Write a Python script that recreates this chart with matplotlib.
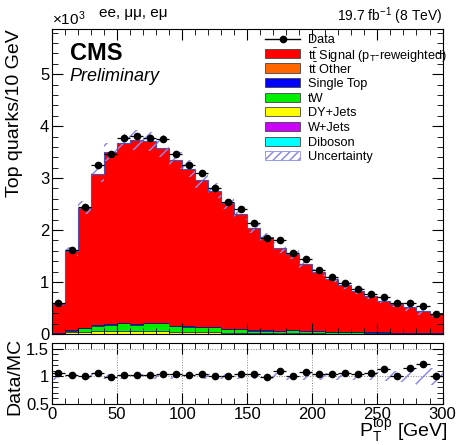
import numpy as np
import matplotlib
matplotlib.use("Agg")
import matplotlib.pyplot as plt
from matplotlib.ticker import MultipleLocator
from matplotlib.patches import Rectangle
from matplotlib.lines import Line2D

plt.rcParams['font.family'] = ['Liberation Sans', 'DejaVu Sans']
plt.rcParams['mathtext.fontset'] = 'custom'
plt.rcParams['mathtext.rm'] = 'Liberation Sans'
plt.rcParams['mathtext.it'] = 'Liberation Sans:italic'
plt.rcParams['mathtext.bf'] = 'Liberation Sans:bold'
plt.rcParams['hatch.linewidth'] = 1.1

# bin edges in GeV (10 GeV bins)
edges = np.arange(0, 310, 10)

# values in units of 10^3 top quarks per bin
data = [0.60, 1.62, 2.44, 3.25, 3.47, 3.78, 3.81, 3.78, 3.76, 3.46,
        3.25, 3.09, 2.80, 2.54, 2.40, 2.13, 1.85, 1.81, 1.55, 1.44,
        1.23, 1.10, 0.99, 0.86, 0.77, 0.72, 0.59, 0.59, 0.54, 0.39]
signal = [0.55, 1.51, 2.31, 2.90, 3.31, 3.45, 3.54, 3.49, 3.36, 3.18,
          3.03, 2.82, 2.62, 2.43, 2.21, 1.97, 1.78, 1.60, 1.46, 1.28,
          1.13, 1.02, 0.90, 0.79, 0.70, 0.61, 0.56, 0.49, 0.42, 0.37]
tt_other = [0.002, 0.003, 0.003, 0.004, 0.004, 0.004, 0.004, 0.004, 0.004, 0.003,
            0.003, 0.003, 0.003, 0.003, 0.002, 0.002, 0.002, 0.002, 0.002, 0.002,
            0.002, 0.002, 0.002, 0.001, 0.001, 0.001, 0.001, 0.001, 0.001, 0.001]
single_top = [0.004, 0.008, 0.010, 0.012, 0.012, 0.013, 0.012, 0.012, 0.012, 0.011,
              0.010, 0.010, 0.010, 0.009, 0.009, 0.008, 0.008, 0.007, 0.007, 0.007,
              0.006, 0.006, 0.006, 0.005, 0.005, 0.005, 0.004, 0.004, 0.004, 0.004]
tw = [0.006, 0.034, 0.064, 0.100, 0.110, 0.140, 0.115, 0.140, 0.140, 0.112,
      0.103, 0.093, 0.093, 0.065, 0.067, 0.050, 0.050, 0.045, 0.055, 0.045,
      0.040, 0.030, 0.026, 0.024, 0.020, 0.020, 0.016, 0.016, 0.012, 0.012]
dy = [0.005, 0.030, 0.040, 0.050, 0.060, 0.060, 0.055, 0.060, 0.060, 0.030,
      0.030, 0.030, 0.030, 0.020, 0.020, 0.015, 0.015, 0.008, 0.011, 0.008,
      0.008, 0.005, 0.004, 0.004, 0.003, 0.003, 0.003, 0.003, 0.002, 0.002]
wjets = [0.001, 0.001, 0.001, 0.002, 0.002, 0.001, 0.002, 0.002, 0.002, 0.002,
         0.002, 0.002, 0.002, 0.001, 0.001, 0.001, 0.001, 0.001, 0.001, 0.001,
         0.001, 0.001, 0.001, 0.001, 0.001, 0.001, 0.001, 0.001, 0.001, 0.001]
diboson = [0.002, 0.002, 0.002, 0.002, 0.002, 0.002, 0.002, 0.002, 0.002, 0.002,
           0.002, 0.002, 0.002, 0.002, 0.001, 0.001, 0.001, 0.001, 0.001, 0.001,
           0.001, 0.001, 0.001, 0.001, 0.001, 0.001, 0.001, 0.001, 0.001, 0.001]
# relative uncertainty on the prediction
rel_unc = [0.06, 0.05, 0.05, 0.05, 0.05, 0.05, 0.05, 0.05, 0.05, 0.05,
           0.05, 0.05, 0.05, 0.05, 0.05, 0.05, 0.05, 0.06, 0.06, 0.06,
           0.06, 0.06, 0.07, 0.07, 0.07, 0.08, 0.10, 0.13, 0.15, 0.15]

# stacking order bottom -> top
stack = [
    (diboson, '#00ffff', 'Diboson'),
    (wjets, '#cc00ff', 'W+Jets'),
    (dy, '#ffff00', 'DY+Jets'),
    (tw, '#00ee00', 'tW'),
    (single_top, '#0000ff', 'Single Top'),
    (tt_other, '#ff6600', r't$\bar{\rm t}$ Other'),
    (signal, '#ff0000', r't$\bar{\rm t}$ Signal (p$_{\rm T}$-reweighted)'),
]
unc_color = '#8c8ce6'

data = np.array(data)
centers = 0.5 * (edges[:-1] + edges[1:])
mc_total = np.zeros(len(centers))

fig = plt.figure(figsize=(4.6, 4.45), dpi=100)
ax = fig.add_axes([0.113, 0.2494, 0.849, 0.6856])
rax = fig.add_axes([0.113, 0.0921, 0.849, 0.137])

for vals, col, lab in stack:
    vals = np.array(vals)
    ax.stairs(mc_total + vals, edges, baseline=mc_total, fill=True,
              facecolor=col, edgecolor='none')
    if lab != stack[-1][2]:
        ax.stairs(mc_total + vals, edges, baseline=None, color='#1a1a80', lw=0.6)
    mc_total = mc_total + vals

rel = np.array(rel_unc)
ax.stairs(mc_total * (1 + rel), edges, baseline=mc_total * (1 - rel), fill=True,
          facecolor='none', edgecolor=unc_color, hatch='//', lw=0)
ax.stairs(mc_total, edges, baseline=None, color='#5050b0', lw=0.8)

stat = np.sqrt(data * 1000) / 1000
ax.errorbar(centers, data, xerr=5, yerr=stat, fmt='o', color='black',
            ms=4.5, elinewidth=0.9, capsize=0)

ax.set_xlim(0, 300)
ax.set_ylim(0, 5.87)
ax.xaxis.set_major_locator(MultipleLocator(50))
ax.xaxis.set_minor_locator(MultipleLocator(10))
ax.yaxis.set_major_locator(MultipleLocator(1))
ax.yaxis.set_minor_locator(MultipleLocator(0.2))
ax.tick_params(axis='x', labelbottom=False)
ax.set_ylabel('Top quarks/10 GeV', fontsize=14, loc='top')

# ratio panel
ratio = data / mc_total
ratio_err = stat / mc_total
rax.stairs(1 + rel, edges, baseline=1 - rel, fill=True, facecolor='none',
           edgecolor=unc_color, hatch='//', lw=0)
rax.errorbar(centers, ratio, xerr=5, yerr=ratio_err, fmt='o', color='black',
             ms=4.5, elinewidth=0.9, capsize=0)
rax.set_xlim(0, 300)
rax.set_ylim(0.5, 1.6)
rax.xaxis.set_major_locator(MultipleLocator(50))
rax.xaxis.set_minor_locator(MultipleLocator(10))
rax.yaxis.set_minor_locator(MultipleLocator(0.1))
rax.set_yticks([0.5, 1, 1.5])
rax.set_yticklabels(['0.5', '1', '1.5'])
rax.grid(True, which='major', color='gray', ls=':', lw=0.7)
rax.set_ylabel('Data/MC', fontsize=14)

for a in (ax, rax):
    a.tick_params(which='both', direction='in', top=True, right=True, labelsize=12)
    a.tick_params(which='major', length=8)
    a.tick_params(which='minor', length=4)
    a.tick_params(axis='both', pad=2)

ax.yaxis.set_label_coords(-0.074, 1.0)
rax.yaxis.set_label_coords(-0.074, 0.45)

fig.text(0.972, 0.019, r'$\mathrm{P}_{\mathrm{T}}^{\mathrm{top}}$ [GeV]', fontsize=14,
         ha='right', va='baseline')
fig.text(0.113, 0.937, r'$\times$10$^3$', fontsize=11, ha='left', va='bottom')
fig.text(0.215, 0.955, 'ee, μμ, eμ', fontsize=11, ha='left', va='bottom')
fig.text(0.962, 0.952, r'19.7 fb$^{-1}$ (8 TeV)', fontsize=10, ha='right',
         va='baseline')
ax.text(0.045, 0.957, 'CMS', transform=ax.transAxes, fontsize=17,
        fontweight='bold', va='top')
ax.text(0.045, 0.872, 'Preliminary', transform=ax.transAxes, fontsize=13,
        style='italic', va='top')

# legend drawn by hand (axes fractions), rows of equal height
leg_x0, leg_w, leg_tx = 0.546, 0.09, 0.655
row_y0, row_dy, box_h = 0.968, 0.048, 0.030
entries = [('Data', None)] + [(lab, col) for _, col, lab in reversed(stack)] + \
          [('Uncertainty', 'unc')]
for i, (lab, col) in enumerate(entries):
    yc = row_y0 - i * row_dy
    if col is None:
        ax.add_line(Line2D([leg_x0, leg_x0 + leg_w], [yc, yc], color='black', lw=1,
                           transform=ax.transAxes))
        ax.plot([leg_x0 + leg_w / 2], [yc], 'o', color='black', ms=4.5,
                transform=ax.transAxes)
    elif col == 'unc':
        ax.add_patch(Rectangle((leg_x0, yc - box_h / 2), leg_w, box_h,
                               facecolor='white', edgecolor=unc_color, hatch='////',
                               lw=0.6, transform=ax.transAxes))
    else:
        ax.add_patch(Rectangle((leg_x0, yc - box_h / 2), leg_w, box_h,
                               facecolor=col, edgecolor='#444444', lw=0.6,
                               transform=ax.transAxes))
    ax.text(leg_tx, yc, lab, transform=ax.transAxes, fontsize=9.2,
            va='center_baseline', ha='left')

fig.savefig('out.png', dpi=100)
